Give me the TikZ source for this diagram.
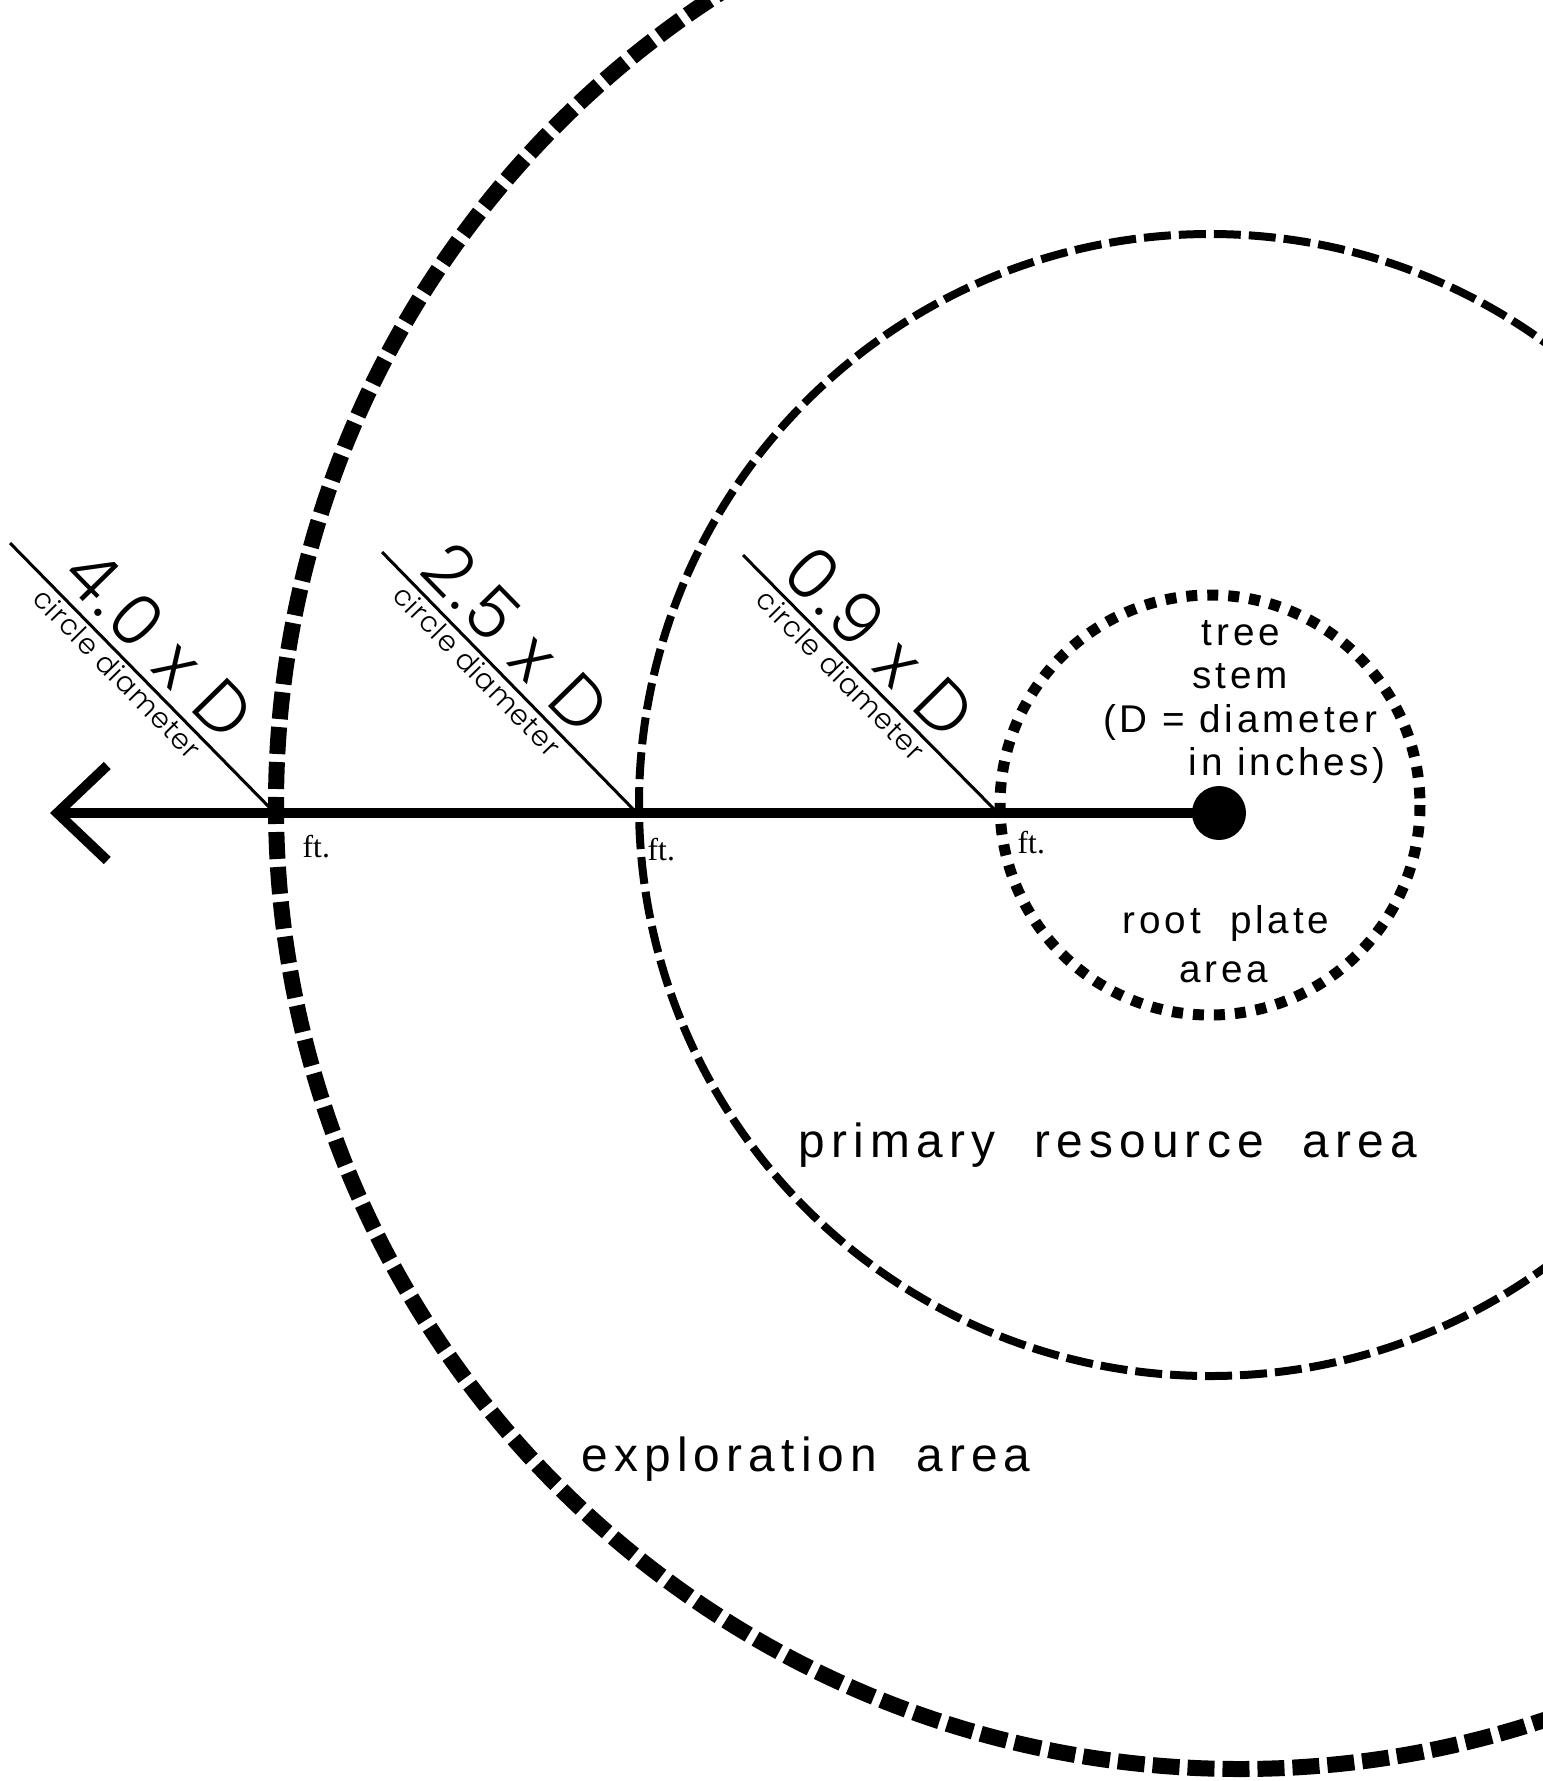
\documentclass[tikz,border=0pt]{standalone}
\usepackage{fontspec}
\setmainfont{Liberation Sans}[LetterSpace=10]
\newfontfamily\geofont{Poppins}[UprightFont=* Light,LetterSpace=5]
\newfontfamily\smallgeofont{Poppins}[UprightFont=* Light,LetterSpace=4]
\newfontfamily\ftfont{Liberation Serif}
\usetikzlibrary{positioning,arrows.meta}

\begin{document}
\begin{tikzpicture}[x=0.1mm,y=-0.1mm,
  every node/.style={inner sep=0pt},
  zonetext/.style={font=\fontsize{13.6}{16}\selectfont\addfontfeatures{LetterSpace=13},anchor=base},
  stemtext/.style={font=\fontsize{11}{13}\selectfont,anchor=base},
  xdlabel/.style={font=\geofont\fontsize{20}{22}\selectfont,sloped,anchor=base,yshift=1.1mm},
  cdlabel/.style={font=\smallgeofont\fontsize{8}{10}\selectfont,sloped,anchor=base,yshift=-2.5mm},
  feet/.style={font=\ftfont\fontsize{9}{11}\selectfont,anchor=base west},
  diag/.style={line width=0.3mm},
  rootring/.style={line width=1.1mm,dash pattern=on 1.1mm off 1mm},
  primring/.style={line width=0.8mm,dash pattern=on 2.7mm off 0.8mm},
  explring/.style={line width=1.6mm,dash pattern=on 2.7mm off 0.8mm}]
  \useasboundingbox (0,0) rectangle (1543,1781);
  \clip (0,0) rectangle (1543,1781);

  % the three rings
  \coordinate (ctr) at (1210,805);
  \coordinate (outer) at (1240,805);
  \draw[rootring] (ctr) circle[radius=210];
  \draw[primring] (ctr) circle[radius=571];
  \draw[explring] (outer) circle[radius=964];

  % stem and axis
  \node[circle,fill,minimum size=5.4mm] (stem) at (1219,813) {};
  \coordinate (tip) at (50,813);
  \draw[line width=1mm,-{Straight Barb[length=5mm,width=9.5mm]}] (stem.center) -- (tip);

  % diagonal labels
  \coordinate (s1) at (10,543);
  \coordinate (e1) at (272,810);
  \coordinate (s2) at (382,552);
  \coordinate (e2) at (634,810);
  \coordinate (s3) at (743,555);
  \coordinate (e3) at (995,810);
  \draw[diag] (s1) -- (e1)
    node[xdlabel,pos=.47] (x1) {4.0 x D}
    node[cdlabel,pos=.45] (c1) {circle diameter};
  \draw[diag] (s2) -- (e2)
    node[xdlabel,pos=.43] (x2) {2.5 x D}
    node[cdlabel,pos=.42] (c2) {circle diameter};
  \draw[diag] (s3) -- (e3)
    node[xdlabel,pos=.44] (x3) {0.9 x D}
    node[cdlabel,pos=.43] (c3) {circle diameter};

  \node[feet] (f1) at (302,857) {ft.};
  \node[feet] (f2) at (647,860) {ft.};
  \node[feet] (f3) at (1017,853) {ft.};

  % texts inside the rings
  \node[stemtext] (tree) at (1241,645) {tree};
  \node[stemtext] (stm) at (1240,688) {stem};
  \node[stemtext] (dia) at (1240,732) {(D = diameter};
  \node[stemtext] (inch) at (1287,775) {in inches)};
  \node[stemtext] (root) at (1226,933) {root~~plate};
  \node[stemtext] (rarea) at (1224,982) {area};
  \node[zonetext] (prim) at (1108,1157) {primary~~resource~~area};
  \node[zonetext] (expl) at (806,1471) {exploration~~area};
\end{tikzpicture}
\end{document}
